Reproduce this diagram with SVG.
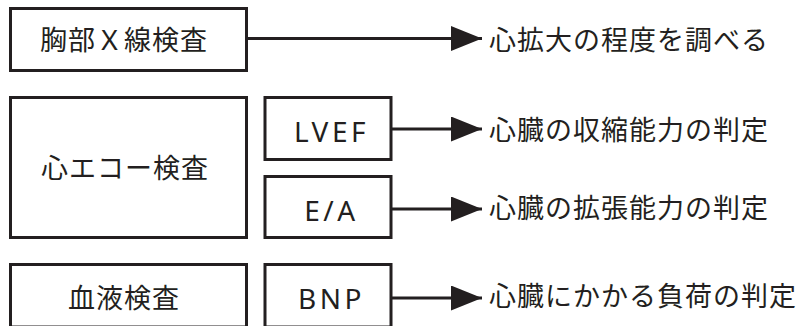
<svg xmlns="http://www.w3.org/2000/svg" width="800" height="326" viewBox="0 0 800 326">
<defs>
<style>
.box{fill:#fff;stroke:#231f20;stroke-width:3}
.jp{font-family:"Noto Sans CJK JP","Noto Sans",sans-serif;font-size:27px;fill:#231f20;letter-spacing:1px}
.lat{font-family:"Noto Sans","Noto Sans CJK JP",sans-serif;font-size:28px;fill:#231f20;letter-spacing:3.5px;text-anchor:middle}
.con{stroke:#231f20;stroke-width:3;fill:none;marker-end:url(#ah)}
</style>
<marker id="ah" markerUnits="userSpaceOnUse" markerWidth="32" markerHeight="26" refX="31" refY="12.5" orient="auto">
<path d="M0,0 L31,12.5 L0,25 Z" fill="#231f20"/>
</marker>
</defs>
<rect width="800" height="326" fill="#fff"/>
<g id="connectors">
<line class="con" x1="248" y1="38.5" x2="482" y2="38.5"/>
<line class="con" x1="392" y1="129" x2="482" y2="129"/>
<line class="con" x1="392" y1="209" x2="482" y2="209"/>
<line class="con" x1="392" y1="298" x2="482" y2="298"/>
</g>
<g id="chest-xray">
<rect class="box" x="10.5" y="8.5" width="236" height="62"/>
<text class="jp" x="40" y="50">胸部Ｘ線検査</text>
</g>
<g id="echo">
<rect class="box" x="10.5" y="97.5" width="236" height="140"/>
<text class="jp" x="41" y="178">心エコー検査</text>
</g>
<g id="lvef">
<rect class="box" x="265" y="97.5" width="126" height="62"/>
<text class="lat" x="331.5" y="142">LVEF</text>
</g>
<g id="ea">
<rect class="box" x="265" y="176.5" width="126" height="61"/>
<text class="lat" x="331.5" y="221">E/A</text>
</g>
<g id="blood">
<rect class="box" x="10.5" y="264.5" width="236" height="62.5"/>
<text class="jp" x="68" y="308">血液検査</text>
</g>
<g id="bnp">
<rect class="box" x="265" y="264.5" width="126" height="62.5"/>
<text class="lat" x="331.5" y="309">BNP</text>
</g>
<g id="results">
<text class="jp" x="489" y="50">心拡大の程度を調べる</text>
<text class="jp" x="489" y="140">心臓の収縮能力の判定</text>
<text class="jp" x="489" y="218">心臓の拡張能力の判定</text>
<text class="jp" x="489" y="306">心臓にかかる負荷の判定</text>
</g>
</svg>
